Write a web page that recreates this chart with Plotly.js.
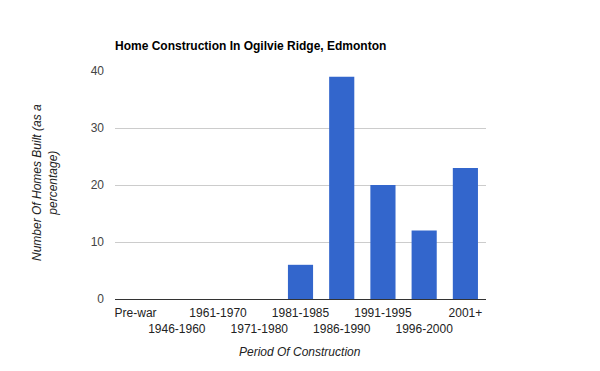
<!DOCTYPE html>
<html>
<head>
<meta charset="utf-8">
<script src="https://cdn.plot.ly/plotly-3.0.1.min.js"></script>
<style>html,body{margin:0;padding:0;background:#fff;}#chart{width:600px;height:371px;}</style>
</head>
<body>
<div id="chart"></div>
<script>
var categories = ["Pre-war", "1946-1960", "1961-1970", "1971-1980", "1981-1985", "1986-1990", "1991-1995", "1996-2000", "2001+"];
var values = [0, 0, 0, 0, 6, 39, 20, 12, 23];
var tickLabels = ["Pre-war", "<br>1946-1960", "1961-1970", "<br>1971-1980", "1981-1985", "<br>1986-1990", "1991-1995", "<br>1996-2000", "2001+"];
var yTicks = [0, 10, 20, 30, 40];

var font = "Arial, 'Liberation Sans', sans-serif";
var plotW = 600 - 115 - 114, plotH = 371 - 71 - 72;

Plotly.newPlot("chart", [{
  type: "bar",
  x: categories,
  y: values,
  marker: {color: "#3366cc"},
  hoverinfo: "none"
}], {
  width: 600, height: 371,
  margin: {l: 115, r: 114, t: 71, b: 72, autoexpand: false},
  paper_bgcolor: "#fff", plot_bgcolor: "#fff",
  bargap: 0.39,
  showlegend: false,
  font: {family: font, size: 12, color: "#222"},
  title: {text: "<b>Home Construction In Ogilvie Ridge, Edmonton</b>", font: {family: font, size: 12, color: "#000"}, x: 115/600, xanchor: "left", y: 1 - 46/371, yanchor: "middle"},
  xaxis: {
    type: "category", range: [-0.5, categories.length - 0.5],
    tickmode: "array", tickvals: categories, ticktext: tickLabels, tickangle: 0,
    showgrid: false, showline: true, linecolor: "#333", linewidth: 1,
    ticks: "", ticklabelstandoff: 3, tickfont: {family: font, size: 12, color: "#222"}, fixedrange: true, automargin: false
  },
  yaxis: {
    range: [0, 40], tickvals: yTicks, showgrid: true, gridcolor: "#ccc",
    zeroline: false, showline: false, ticks: "", ticklabelstandoff: 10,
    tickfont: {family: font, size: 12, color: "#444"}, fixedrange: true, automargin: false
  },
  annotations: [
    {text: "<i>Number Of Homes Built (as a<br>percentage)</i>", xref: "paper", yref: "paper",
     x: (45 - 115) / plotW, y: (299 - 183) / plotH, xanchor: "center", yanchor: "middle",
     showarrow: false, textangle: -90, font: {family: font, size: 12, color: "#222"}},
    {text: "<i>Period Of Construction</i>", xref: "paper", yref: "paper",
     x: (300 - 115) / plotW, y: (299 - 352) / plotH, xanchor: "center", yanchor: "middle",
     showarrow: false, font: {family: font, size: 12, color: "#222"}}
  ]
}, {displayModeBar: false, staticPlot: true});
</script>
</body>
</html>
